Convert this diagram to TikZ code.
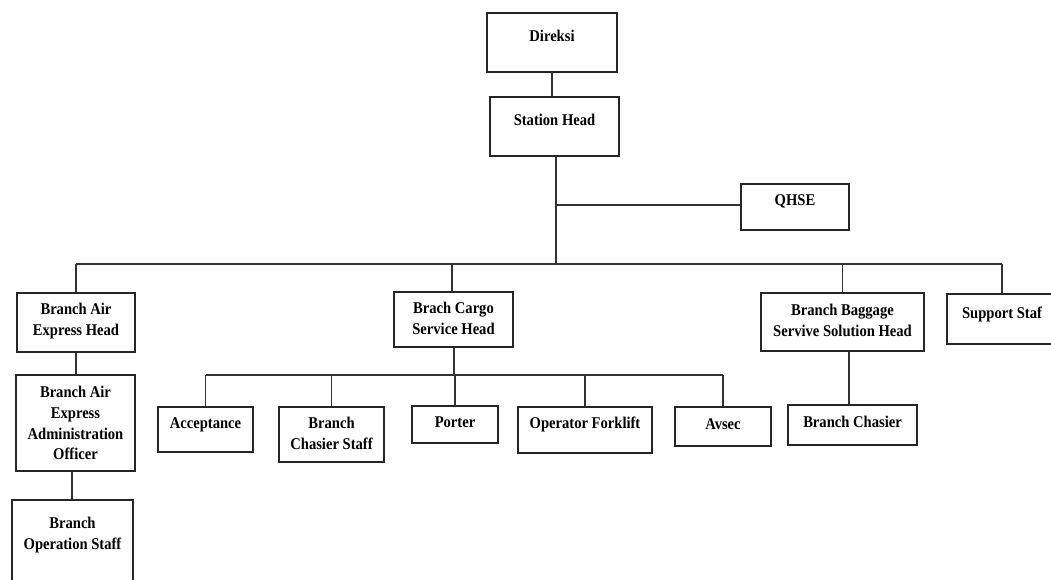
\documentclass[tikz,border=0pt]{standalone}
\usepackage{fontspec}
\setmainfont{Liberation Serif}[FakeStretch=0.89]
\usetikzlibrary{fit}
\begin{document}
\begin{tikzpicture}[x=1pt,y=-1pt,
  box/.style={draw=black!85, line width=1.1pt, inner sep=0pt},
  lbl/.style={anchor=north, inner sep=0pt, align=center, font=\fontsize{16.4}{20.8}\selectfont\bfseries, text=black},
  conn/.style={draw=black!80, line width=1.1pt}]
\useasboundingbox[fill=white] (0,0) rectangle (1051,579);
% boxes
\node[box, fit={(487,13) (617,72)}] (d) {};
\node[box, fit={(490,97) (619,156)}] (s) {};
\node[box, fit={(741,184) (849,230)}] (q) {};
\node[box, fit={(17,293) (135,352)}] (aeh) {};
\node[box, fit={(394,292) (513,347)}] (cgo) {};
\node[box, fit={(761,293) (924,351)}] (bag) {};
\node[box, fit={(947,294) (1057,344)}] (sup) {};
\node[box, fit={(16,375) (135,471)}] (adm) {};
\node[box, fit={(12,500) (133,590)}] (ops) {};
\node[box, fit={(158,407) (253,452)}] (acc) {};
\node[box, fit={(279,407) (384,462)}] (chs) {};
\node[box, fit={(412,406) (498,443)}] (por) {};
\node[box, fit={(518,407) (652,453)}] (opf) {};
\node[box, fit={(675,407) (771,446)}] (avs) {};
\node[box, fit={(788,405) (917,445)}] (bch) {};
% labels
\node[lbl] (td) at (552,30) {Direksi};
\node[lbl] (ts) at (554.5,114) {Station Head};
\node[lbl] (tq) at (795,194) {QHSE};
\node[lbl] (taeh) at (76,303) {Branch Air\\Express Head};
\node[lbl] (tcgo) at (453.5,302) {Brach Cargo\\Service Head};
\node[lbl] (tbag) at (842.5,304) {Branch Baggage\\Servive Solution Head};
\node[lbl] (tsup) at (1002,307) {Support Staf};
\node[lbl] (tadm) at (75.5,386) {Branch Air\\Express\\Administration\\Officer};
\node[lbl] (tops) at (72.5,517) {Branch\\Operation Staff};
\node[lbl] (tacc) at (205.5,417) {Acceptance};
\node[lbl] (tchs) at (331.5,417) {Branch\\Chasier Staff};
\node[lbl] (tpor) at (455,417) {Porter};
\node[lbl] (topf) at (585,417) {Operator Forklift};
\node[lbl] (tavs) at (723,418) {Avsec};
\node[lbl] (tbch) at (852.5,416) {Branch Chasier};
% junctions
\coordinate (j1) at (556,205);
\coordinate (j2) at (556,264);
\coordinate (j3) at (454,375);
\coordinate (j4) at (849,0);
\coordinate (j5) at (452,0);
% connectors
\draw[conn] (d.south) -- (d.south |- s.north);
\draw[conn] (j1 |- s.south) -- (j2);
\draw[conn] (j1) -- (q.west |- j1);
\draw[conn] (aeh.north |- j2) -- (sup.north |- j2);
\foreach \n in {aeh,bag,sup} \draw[conn] (\n.north |- j2) -- (\n.north);
\draw[conn] (j5 |- j2) -- (j5 |- cgo.north);
\draw[conn] (aeh.south) -- (aeh.south |- adm.north);
\draw[conn] (adm.south -| 72,0) -- (ops.north -| 72,0);
\draw[conn] (j3 |- cgo.south) -- (j3);
\draw[conn] (acc.north |- j3) -- (avs.north |- j3);
\foreach \n in {acc,chs,por,opf,avs} \draw[conn] (\n.north |- j3) -- (\n.north);
\draw[conn] (bag.south -| j4) -- (bch.north -| j4);
\end{tikzpicture}
\end{document}
